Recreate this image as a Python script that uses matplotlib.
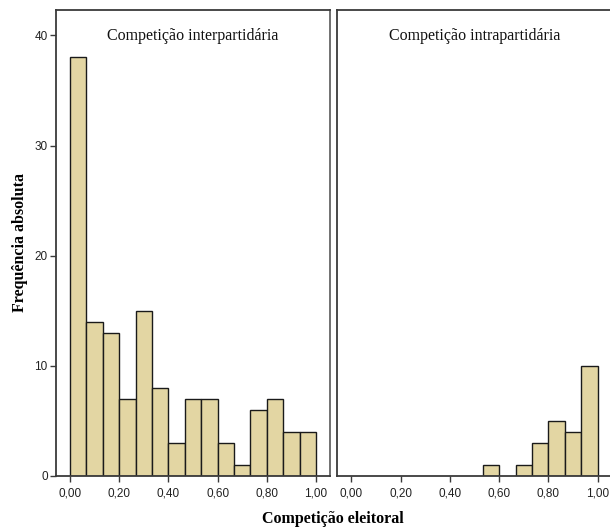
import matplotlib
matplotlib.use("Agg")
import matplotlib.pyplot as plt
import numpy as np

bin_edges = np.linspace(0, 1, 16)
inter_counts = [38, 14, 13, 7, 15, 8, 3, 7, 7, 3, 1, 6, 7, 4, 4]
intra_counts = [0, 0, 0, 0, 0, 0, 0, 0, 1, 0, 1, 3, 5, 4, 10]
panel_titles = ["Competição interpartidária", "Competição intrapartidária"]
xticks = [0.0, 0.2, 0.4, 0.6, 0.8, 1.0]
xtick_labels = ["0,00", "0,20", "0,40", "0,60", "0,80", "1,00"]
yticks = [0, 10, 20, 30, 40]

W, H = 610, 530
fig = plt.figure(figsize=(W/100, H/100), dpi=100)
fill = "#E3D6A3"
edge = "#1a1a1a"
spine_c = "#3a3a3a"

def fx(px): return px / W
def fy(py): return 1 - py / H

# axes rectangles in pixels: left, top, right, bottom
rects = [(56, 10, 330, 476), (337.3, 10, 611.7, 476)]
axes = []
for i, (l, t, r, b) in enumerate(rects):
    ax = fig.add_axes([fx(l), fy(b), fx(r - l), (b - t) / H])
    counts = [inter_counts, intra_counts][i]
    widths = np.diff(bin_edges)
    heights = np.array(counts, dtype=float)
    mask = heights > 0
    ax.bar(bin_edges[:-1][mask], heights[mask], width=widths[mask], align="edge",
           color=fill, edgecolor=edge, linewidth=1.0)
    ax.set_xlim(-0.057, 1.057)
    ax.set_ylim(0, 42.3)
    ax.set_xticks(xticks)
    ax.set_xticklabels(xtick_labels, fontsize=8.5, family="Liberation Sans", color="#222222")
    for s in ax.spines.values():
        s.set_color(spine_c)
        s.set_linewidth(1.3)
    ax.tick_params(axis="x", direction="out", length=4, width=1, color=spine_c, pad=4)
    if i == 0:
        ax.set_yticks(yticks)
        ax.set_yticklabels([str(v) for v in yticks], fontsize=8.5, family="Liberation Sans", color="#222222")
        ax.tick_params(axis="y", direction="out", length=4, width=1, color=spine_c, pad=2)
        ax.spines["right"].set_color("#666666")
    else:
        ax.set_yticks([])
    ax.text(0.5, 0.945, panel_titles[i], transform=ax.transAxes, ha="center", va="center",
            fontsize=11.5, family="Liberation Serif", color="#111111")
    axes.append(ax)

fig.text(fx(20), fy(243), "Frequência absoluta", rotation=90, ha="center", va="center",
         fontsize=11.5, fontweight="bold", family="Liberation Serif")
fig.text(fx(333), fy(519), "Competição eleitoral", ha="center", va="center",
         fontsize=11.5, fontweight="bold", family="Liberation Serif")

fig.savefig("out.png", dpi=100)
